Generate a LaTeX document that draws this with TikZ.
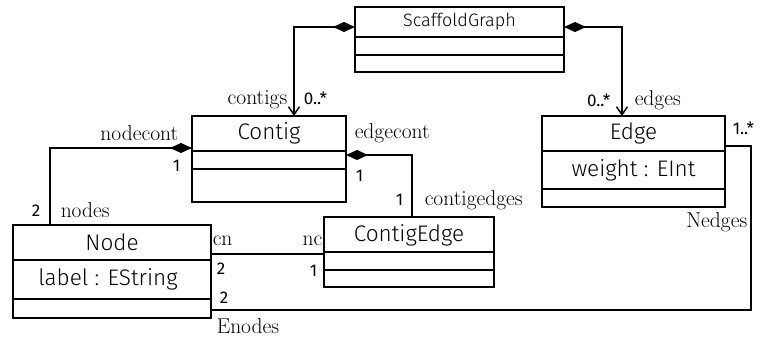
\documentclass[tikz,border=0pt]{standalone}
\usepackage{fontspec}
\newfontfamily\umlsans{Fira Sans}[UprightFont=* Light]
\newfontfamily\multsans{Fira Sans}
\usetikzlibrary{arrows.meta}
\begin{document}
\begin{tikzpicture}[x=1pt,y=-1pt,line width=1.5pt,
  box/.style={draw,line width=1.5pt,inner sep=0pt,outer sep=0pt,anchor=north west},
  ttl/.style={inner sep=0pt,font=\umlsans\fontsize{22.5}{24}\selectfont},
  sgttl/.style={inner sep=0pt,font=\umlsans\fontsize{18}{19}\selectfont},
  role/.style={inner sep=0pt,font=\fontsize{21.5}{23}\selectfont},
  mult/.style={inner sep=0pt,font=\multsans\fontsize{17}{19}\selectfont},
  dia/.style={{Diamond[length=22pt,width=10pt]}-},
  diaarr/.style={{Diamond[length=22pt,width=10pt]}-{Straight Barb[length=8pt,width=11pt]}}]
\useasboundingbox (0,0) rectangle (765,338);
% classes
\node[box,minimum width=209pt,minimum height=65pt] (sg) at (355,7) {};
\draw (355,37) -- (564,37) (355,55) -- (564,55);
\node[sgttl] (sgt) at (459.5,22) {ScaffoldGraph};

\node[box,minimum width=154pt,minimum height=86pt] (contig) at (192,116) {};
\draw (192,151) -- (346,151) (192,169) -- (346,169);
\node[ttl] (contigt) at (269,133) {Contig};

\node[box,minimum width=183pt,minimum height=91pt] (edge) at (542,116) {};
\draw (542,151) -- (725,151) (542,189) -- (725,189);
\node[ttl] (edget) at (633.5,133) {Edge};
\node[ttl] (edgea) at (633.5,170) {weight : EInt};

\node[box,minimum width=198pt,minimum height=93pt] (node) at (13,225) {};
\draw (13,260) -- (211,260) (13,299) -- (211,299);
\node[ttl] (nodet) at (112,242) {Node};
\node[ttl] (nodea) at (108,279) {label : EString};

\node[box,minimum width=170pt,minimum height=70pt] (ce) at (324,217) {};
\draw (324,252) -- (494,252) (324,270) -- (494,270);
\node[ttl] (cet) at (409,235) {ContigEdge};

% connectors
\draw[diaarr] ([yshift=-20pt]sg.north west) -| ([xshift=25pt]contig.north);
\draw[diaarr] ([yshift=-20pt]sg.north east) -| ([xshift=-11.5pt]edge.north);
\draw[dia] ([yshift=-32pt]contig.north west) -| ([xshift=-62pt]node.north);
\draw[dia] ([yshift=-39pt]contig.north east) -| ([xshift=3pt]ce.north);
\draw ([yshift=-29pt]node.north east) -- ([yshift=-37pt]ce.north west);
\coordinate (ee) at ([yshift=-30pt]edge.north east);
\draw ([yshift=-85pt]node.north east) -| ([xshift=26pt]ee) -- (ee);

% labels
\node[role,anchor=east] (l1) at (288,100) {contigs};
\node[mult,anchor=west] (m1) at (303,98) {0..*};
\node[mult,anchor=east] (m2) at (611,100) {0..*};
\node[role,anchor=west] (l2) at (634,100) {edges};
\node[role,anchor=east] (l3) at (179,133) {nodecont};
\node[mult,anchor=east] (m3) at (181,166) {1};
\node[role,anchor=west] (l4) at (354,133) {edgecont};
\node[mult,anchor=west] (m4) at (355,176) {1};
\node[mult,anchor=east] (m5) at (404,200) {1};
\node[role,anchor=west] (l5) at (424,200) {contigedges};
\node[mult,anchor=east] (m6) at (41,211) {2};
\node[role,anchor=west] (l6) at (60,210) {nodes};
\node[role,anchor=west] (l7) at (212,241) {cn};
\node[role,anchor=east] (l8) at (323,241) {nc};
\node[mult,anchor=west] (m7) at (216,269) {2};
\node[mult,anchor=east] (m8) at (318,271) {1};
\node[mult,anchor=west] (m9) at (219,298) {2};
\node[role,anchor=west] (l9) at (216,326) {Enodes};
\node[mult,anchor=west] (m10) at (732,128) {1..*};
\node[role,anchor=east] (l10) at (748,222) {Nedges};
\end{tikzpicture}
\end{document}
